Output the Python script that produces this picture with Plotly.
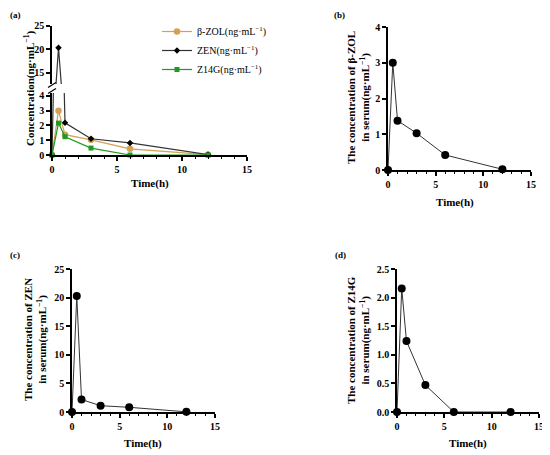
import plotly.graph_objs as go

time_h = [0, 0.5, 1, 3, 6, 12]
zol = [0, 3.0, 1.38, 1.03, 0.42, 0.02]
zen = [0, 20.3, 2.18, 1.1, 0.82, 0.03]
z14g = [0, 2.16, 1.24, 0.47, 0.0, 0.0]

x_ticks = [0, 5, 10, 15]

ZOL_C = '#D4A055'
ZEN_C = '#333333'
Z14G_C = '#1E9A1E'
FONT = 'Liberation Serif'

# page body has an 8px margin, so work in window pixels and shift
OFF = 8
W, H = 550 - OFF, 455 - OFF

def fx(px):
    return (px - OFF) / W

def fy(py):
    return 1 - (py - OFF) / H

def xdom(a, b):
    return [fx(a), fx(b)]

def ydom(top, bottom):
    return [fy(bottom), fy(top)]

unit = 'ng·mL<sup>−1</sup>'

fig = go.Figure()

# (a) combined, broken y axis -> lower part y1, upper part y2
fig.add_trace(go.Scatter(x=time_h, y=zol, name='β-ZOL(' + unit + ')', mode='lines+markers',
                         line=dict(color=ZOL_C, width=1.2),
                         marker=dict(symbol='circle', size=6.5, color=ZOL_C),
                         xaxis='x', yaxis='y', cliponaxis=False))
fig.add_trace(go.Scatter(x=time_h, y=zen, name='ZEN(' + unit + ')', mode='lines+markers',
                         line=dict(color=ZEN_C, width=1.2),
                         marker=dict(symbol='diamond', size=5, color='black'),
                         xaxis='x', yaxis='y'))
fig.add_trace(go.Scatter(x=time_h, y=z14g, name='Z14G(' + unit + ')', mode='lines+markers',
                         line=dict(color=Z14G_C, width=1.2),
                         marker=dict(symbol='square', size=5, color=Z14G_C),
                         xaxis='x', yaxis='y', cliponaxis=False))
fig.add_trace(go.Scatter(x=time_h, y=zen, mode='lines+markers', showlegend=False,
                         line=dict(color=ZEN_C, width=1.2),
                         marker=dict(symbol='diamond', size=5, color='black'),
                         xaxis='x', yaxis='y2'))

# (b) (c) (d) single series
single = [(zol, 'x2', 'y3'), (zen, 'x3', 'y4'), (z14g, 'x4', 'y5')]
for vals, xa, ya in single:
    fig.add_trace(go.Scatter(x=time_h, y=vals, mode='lines+markers', showlegend=False,
                             line=dict(color='#333333', width=1),
                             marker=dict(symbol='circle', size=8, color='black'),
                             xaxis=xa, yaxis=ya, cliponaxis=False))

tickfont = dict(family=FONT, size=10, color='black', weight='bold')
titlefont = dict(family=FONT, size=11, color='black', weight='bold')

def xax(domain, anchor):
    return dict(domain=domain, anchor=anchor, range=[0, 15], tickvals=x_ticks,
                showline=True, linecolor='black', linewidth=1.5, ticks='outside',
                ticklen=4, tickwidth=1.5, tickcolor='black', showgrid=False, zeroline=False,
                minor=dict(dtick=1, ticks='outside', ticklen=2.5, tickwidth=1.2, tickcolor='black'),
                tickfont=tickfont, automargin=False)

def yax(domain, anchor, rng, dtick, fmt=None):
    d = dict(domain=domain, anchor=anchor, range=rng, dtick=dtick, tick0=0,
             showline=True, linecolor='black', linewidth=1.5, ticks='outside',
             ticklen=4, tickwidth=1.5, tickcolor='black', showgrid=False, zeroline=False,
             tickfont=tickfont, automargin=False)
    if fmt:
        d['tickformat'] = fmt
    return d

fig.update_layout(
    width=W, height=H,
    margin=dict(l=0, r=0, t=0, b=0, autoexpand=False),
    paper_bgcolor='white', plot_bgcolor='white',
    showlegend=True,
    legend=dict(x=fx(157), y=fy(17), xanchor='left', yanchor='top',
                font=dict(family=FONT, size=10, color='black'),
                bgcolor='rgba(0,0,0,0)', tracegroupgap=0),
    xaxis=xax(xdom(52, 247), 'y'),
    yaxis=yax(ydom(93, 155), 'x', [0, 4.2], 1),
    yaxis2=dict(domain=ydom(25.7, 84), anchor='x', range=[12.6, 25], tickvals=[15, 20, 25],
                showline=True, linecolor='black', linewidth=1.5, ticks='outside',
                ticklen=4, tickwidth=1.5, tickcolor='black', showgrid=False, zeroline=False,
                tickfont=tickfont, automargin=False),
    xaxis2=xax(xdom(388, 531), 'y3'),
    yaxis3=yax(ydom(27, 170), 'x2', [0, 4], 1),
    xaxis3=xax(xdom(72, 215), 'y4'),
    yaxis4=yax(ydom(269, 412), 'x3', [0, 25], 5),
    xaxis4=xax(xdom(397, 539), 'y5'),
    yaxis5=yax(ydom(269, 412), 'x4', [0, 2.5], 0.5, fmt='.1f'),
)

def note(text, px, py, font, angle=0, anchor='center'):
    fig.add_annotation(text=text, xref='paper', yref='paper', x=fx(px), y=fy(py),
                       xanchor=anchor, yanchor='middle', textangle=angle,
                       showarrow=False, font=font)

# axis titles
note('Concentration(' + unit + ')', 29, 88, titlefont, -90)
note('Time(h)', 150, 183, titlefont)
note('Time(h)', 455, 202, titlefont)
note('Time(h)', 143, 443, titlefont)
note('Time(h)', 468, 443, titlefont)
note('The concentration of β-ZOL<br>in serum(' + unit + ')', 359, 98, titlefont, -90)
note('The concentration of ZEN<br>in serum(' + unit + ')', 35, 340, titlefont, -90)
note('The concentration of Z14G<br>in serum(' + unit + ')', 358, 340, titlefont, -90)

# axis break marks on (a)
for yb in [85, 91]:
    fig.add_shape(type='line', xref='paper', yref='paper',
                  x0=fx(48), x1=fx(56), y0=fy(yb + 2.5), y1=fy(yb - 2.5),
                  line=dict(color='black', width=1.2))

panel_font = dict(family=FONT, size=9, color='black', weight='bold')
for lbl, px, py in [('(a)', 8, 15), ('(b)', 332, 15), ('(c)', 8, 255), ('(d)', 333, 255)]:
    note(lbl, px, py, panel_font, anchor='left')

fig.write_html("out.html")
